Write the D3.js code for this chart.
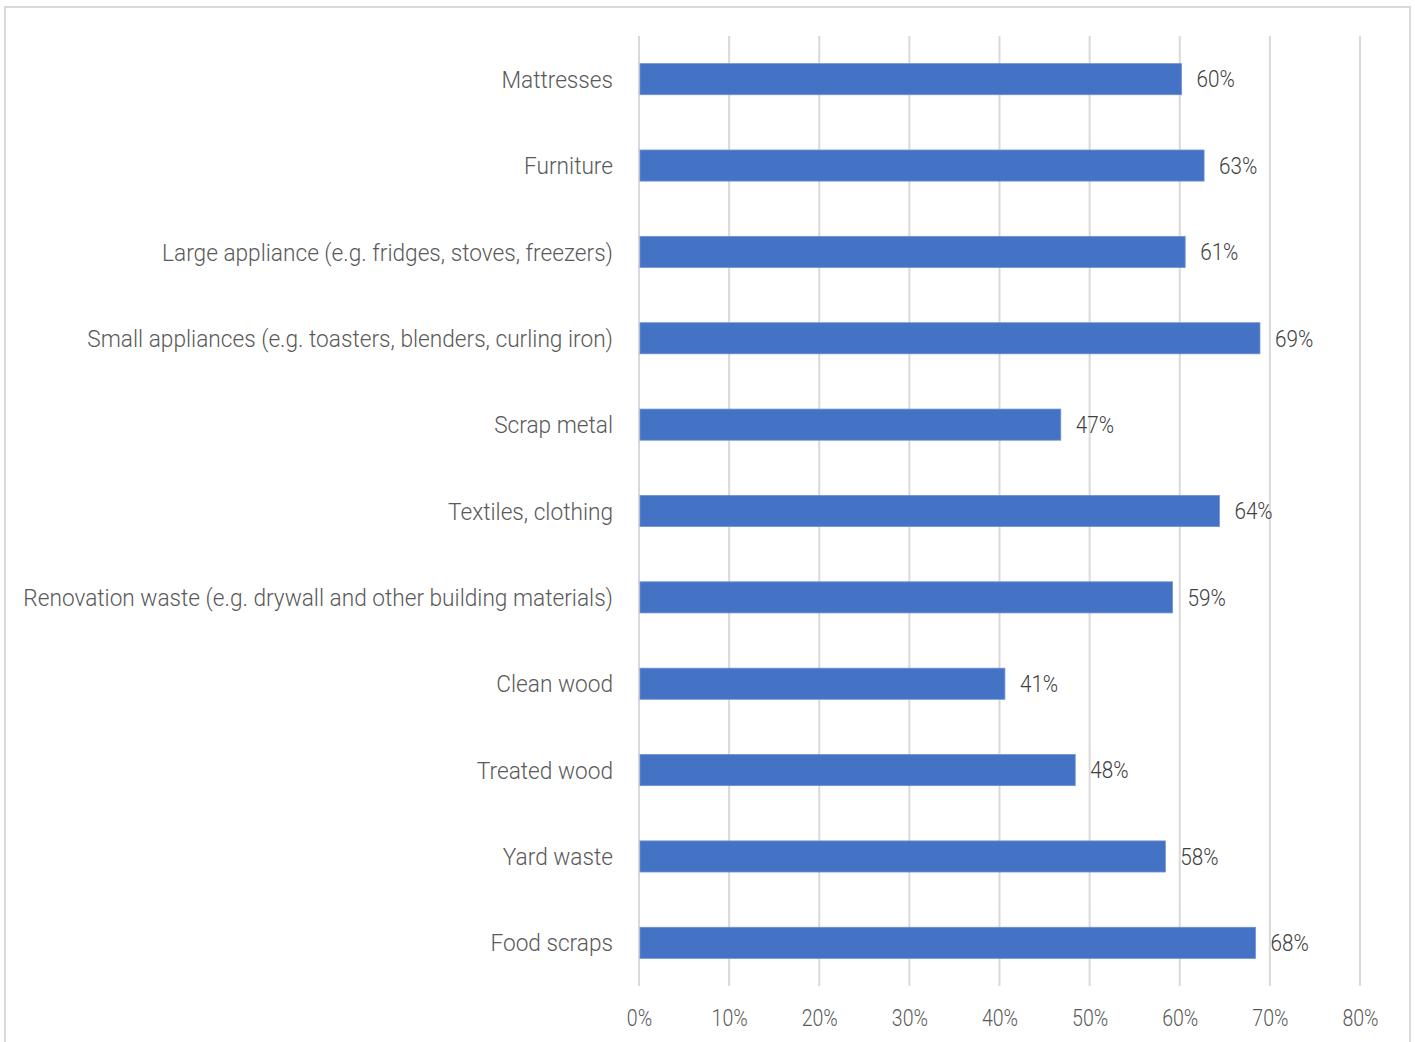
<!DOCTYPE html>
<html><head><meta charset="utf-8">
<script src="https://cdn.jsdelivr.net/npm/d3@7"></script>
<style>
html,body{margin:0;padding:0;background:#fff;}
svg{display:block;}
text{font-family:Roboto, "Open Sans", sans-serif; font-weight:300;}
</style></head>
<body>
<svg id="chart" width="1415" height="1042"></svg>
<script>
const categories = [
  "Mattresses",
  "Furniture",
  "Large appliance (e.g. fridges, stoves, freezers)",
  "Small appliances (e.g. toasters, blenders, curling iron)",
  "Scrap metal",
  "Textiles, clothing",
  "Renovation waste (e.g. drywall and other building materials)",
  "Clean wood",
  "Treated wood",
  "Yard waste",
  "Food scraps"
];
const values = [0.602, 0.627, 0.606, 0.689, 0.468, 0.644, 0.592, 0.406, 0.484, 0.584, 0.684];
const tickValues = [0, 0.1, 0.2, 0.3, 0.4, 0.5, 0.6, 0.7, 0.8];

(function(){
const svg = d3.select("#chart");
// outer frame
svg.append("rect").attr("x", 5).attr("y", 7).attr("width", 1405).attr("height", 1045)
  .attr("fill", "none").attr("stroke", "#d9d9d9").attr("stroke-width", 2);

const pLeft = 639, pRight = 1360, pTop = 36, pBottom = 986;
const x = d3.scaleLinear().domain([0, 0.8]).range([pLeft, pRight]);
const y = d3.scaleBand().domain(categories).range([pTop, pBottom]).paddingInner(0.64).paddingOuter(0.32);

// gridlines
svg.append("g").selectAll("line").data(tickValues).join("line")
  .attr("x1", d => x(d)).attr("x2", d => x(d))
  .attr("y1", pTop).attr("y2", pBottom)
  .attr("stroke", "#d9d9d9").attr("stroke-width", 2);

// bars
svg.append("g").selectAll("rect").data(values).join("rect")
  .attr("x", x(0) + 1)
  .attr("y", (d, i) => y(categories[i]))
  .attr("width", d => x(d) - x(0) - 1)
  .attr("height", y.bandwidth())
  .attr("fill", "#4472c4")
  .attr("stroke", "#6d91d2").attr("stroke-width", 0.8);

// data labels
const fmt = d3.format(".0%");
svg.append("g").selectAll("text").data(values).join("text")
  .attr("transform", (d, i) => `translate(${x(d) + 15},${y(categories[i]) + y.bandwidth() / 2}) scale(0.9,1)`)
  .attr("dy", "0.36em")
  .attr("font-size", 23)
  .attr("fill", "#404040")
  .text(d => fmt(d));

// category labels
const labels = svg.append("g").selectAll("text").data(categories).join("text")
  .attr("dy", "0.36em")
  .attr("text-anchor", "end")
  .attr("font-size", 24)
  .attr("fill", "#595959")
  .text(d => d);
let maxW = 0;
labels.each(function(){ maxW = Math.max(maxW, this.getComputedTextLength()); });
const k = maxW > 0 ? 590 / maxW : 1;
labels.attr("transform", d => `translate(613,${y(d) + y.bandwidth() / 2}) scale(${k},1)`);

// x axis tick labels
const axis = d3.axisBottom(x).tickValues(tickValues).tickFormat(d3.format(".0%")).tickSize(0).tickPadding(0);
const ag = svg.append("g").attr("transform", "translate(0,1018)").call(axis);
ag.select(".domain").remove();
ag.selectAll("text").attr("font-size", 23).attr("fill", "#595959")
  .attr("font-family", "Roboto, sans-serif").attr("font-weight", 300)
  .attr("dy", "0.36em").attr("y", 0).attr("transform", "scale(0.85,1)");
})();
</script>
</body></html>
